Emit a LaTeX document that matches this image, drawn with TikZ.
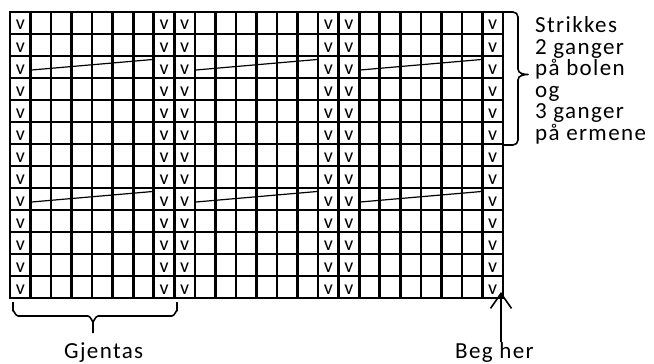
\documentclass[tikz,border=0pt]{standalone}
\usepackage{fontspec}
\setmainfont{Carlito}
\newfontfamily\spaced{Carlito}[LetterSpace=6]
\usetikzlibrary{arrows.meta}
\tikzset{
  vline/.style={line width=2.6pt, line cap=rect},
  hline/.style={line width=2.2pt, line cap=rect},
  vmark/.style={anchor=base, inner sep=0pt, font=\fontsize{20}{22}\selectfont},
  slant/.style={line width=1.2pt},
  bracestyle/.style={line width=1.6pt, line join=round},
  label/.style={anchor=base west, inner sep=0pt, font=\spaced\fontsize{23}{27}\selectfont},
  pointer/.style={line width=1.6pt, -{Straight Barb[length=15pt,width=21pt,line width=1.6pt]}}
}
\begin{document}
\begin{tikzpicture}[x=1pt,y=-1pt]
\useasboundingbox (0,0) rectangle (654,364);
\def\cw{20.5417}
% grid
\foreach \i in {0,...,24} \draw[vline] (10+\i*\cw,12) -- (10+\i*\cw,298);
\foreach \j in {0,...,13} \draw[hline] (10,12+\j*22) -- (503,12+\j*22);
% v marks
\foreach \c in {1,8,9,16,17,24} {
  \foreach \r in {1,...,13} {
    \node[vmark] (v-\c-\r) at (10+\c*\cw-0.5*\cw, 12+\r*22-22+18) {v};
  }
}
% slanted lines
\foreach \t in {56,188} {
  \foreach \s in {1,9,17} {
    \draw[slant] (10+\s*\cw+1,\t+14) -- (10+\s*\cw+6*\cw-1,\t+3.5);
  }
}
% right brace
\draw[bracestyle] (503,12) -- (513,12) to[out=0,in=90] (518,17) -- (518,69)
  to[out=-90,in=180] (528,74.5) to[out=180,in=90] (518,80) -- (518,140)
  to[out=-90,in=0] (513,145) -- (503,145);
% labels right
\node[label] (t1) at (535,32) {Strikkes};
\node[label] (t2) at (535,54) {2 ganger};
\node[label] (t3) at (535,75.5) {på bolen};
\node[label] (t4) at (535,97) {og};
\node[label] (t5) at (535,118.5) {3 ganger};
\node[label] (t6) at (535,140) {på ermene};
% bottom brace
\draw[bracestyle] (13,302) -- (13,311) to[out=90,in=180] (18,316) -- (88,316)
  to[out=0,in=-90] (93,321) -- (93,333);
\draw[bracestyle] (93,321) to[out=-90,in=180] (98,316) -- (172,316)
  to[out=0,in=90] (177,311) -- (177,302);
\node[label] (gjentas) at (64,358.5) {Gjentas};
% start arrow
\node[label] (beg) at (455,358.5) {Beg her};
\coordinate (arrtail) at (501,342);
\coordinate (arrtip) at (501,292);
\draw[pointer] (arrtail) -- (arrtip);
\end{tikzpicture}
\end{document}
